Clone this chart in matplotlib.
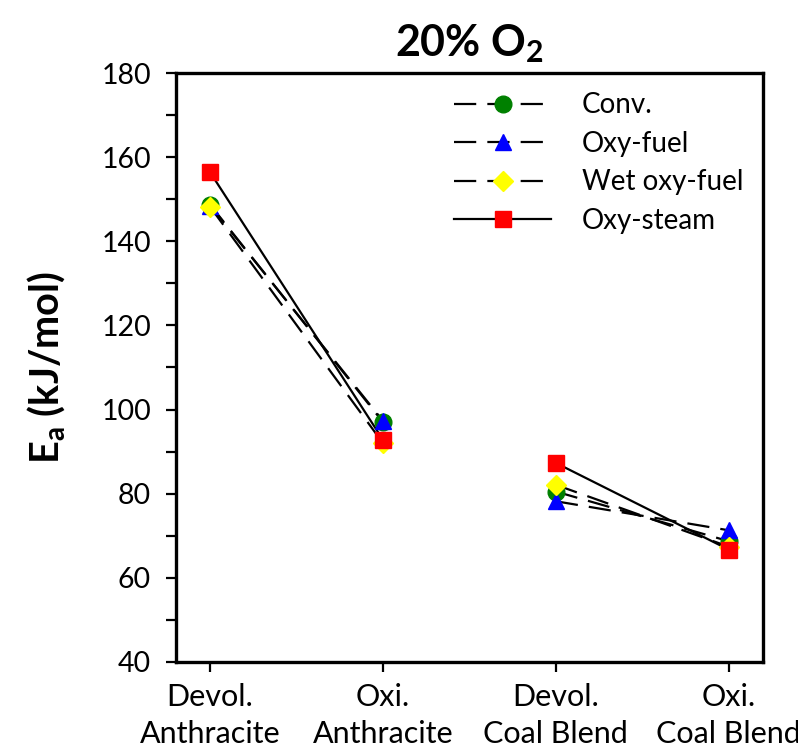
import matplotlib
matplotlib.use("Agg")
import matplotlib.pyplot as plt
from matplotlib.lines import Line2D

plt.rcParams['font.family'] = ['Lato', 'DejaVu Sans']
plt.rcParams['mathtext.fontset'] = 'custom'
plt.rcParams['mathtext.rm'] = 'Lato'
plt.rcParams['mathtext.bf'] = 'Lato:bold'

categories = ["Devol.\nAnthracite", "Oxi.\nAnthracite", "Devol.\nCoal Blend", "Oxi.\nCoal Blend"]
series_names = ["Conv.", "Oxy-fuel", "Wet oxy-fuel", "Oxy-steam"]
conv = [148.7, 97.0, 80.5, 68.7]
oxy_fuel = [148.5, 97.3, 78.2, 71.3]
wet_oxy_fuel = [148.2, 92.0, 82.1, 67.4]
oxy_steam = [156.4, 92.8, 87.3, 66.7]
values = [conv, oxy_fuel, wet_oxy_fuel, oxy_steam]
# lines connect Devol. -> Oxi. within each fuel only
segments = [(0, 2), (2, 4)]

colors = ["#008000", "#0000FF", "#FFFF00", "#FF0000"]
markers = ["o", "^", "D", "s"]
msizes = [12, 12, 10, 11]
dashed = [True, True, True, False]

fig = plt.figure(figsize=(7.98, 7.55), dpi=100)
ax = fig.add_axes([0.2206, 0.1232, 0.7354, 0.7801])
x = list(range(len(categories)))

handles = []
for vals, c, m, ms, d, name in zip(values, colors, markers, msizes, dashed, series_names):
    ls = (0, (10, 5)) if d else '-'
    for a, b in segments:
        ax.plot(x[a:b], vals[a:b], color='black', lw=1.6, linestyle=ls, zorder=2)
    handles.append(Line2D([], [], color='black', lw=1.6, linestyle=ls, marker=m,
                          markersize=ms, markerfacecolor=c, markeredgecolor=c, label=name))
for vals, c, m, ms in zip(values, colors, markers, msizes):
    ax.plot(x, vals, linestyle='none', marker=m, markersize=ms,
            markerfacecolor=c, markeredgecolor=c, zorder=3)

ax.set_xlim(-0.197, 3.197)
ax.set_ylim(40, 180)
ax.set_yticks(range(40, 181, 20))
ax.set_yticks(range(50, 180, 20), minor=True)
ax.set_xticks(x)
ax.set_xticklabels(categories, fontsize=22, linespacing=1.38)
ax.tick_params(axis='y', which='both', direction='out', length=7, width=1.6, labelsize=20.5, pad=11)
ax.tick_params(axis='x', direction='out', length=7, width=1.6, pad=8)
for s in ax.spines.values():
    s.set_linewidth(2.4)

ax.set_ylabel(r'E$_\mathbf{a}$ (kJ/mol)', fontsize=28.5, fontweight='bold', labelpad=24)
ax.set_title(r'20% O$_\mathbf{2}$', fontsize=31, fontweight='bold', pad=12)

leg = ax.legend(handles=handles, loc='upper right', frameon=False, fontsize=20,
                handlelength=3.5, handletextpad=1.1, labelspacing=0.45,
                bbox_to_anchor=(1.0, 1.0), borderaxespad=0.3)

fig.savefig("out.png", dpi=100)
